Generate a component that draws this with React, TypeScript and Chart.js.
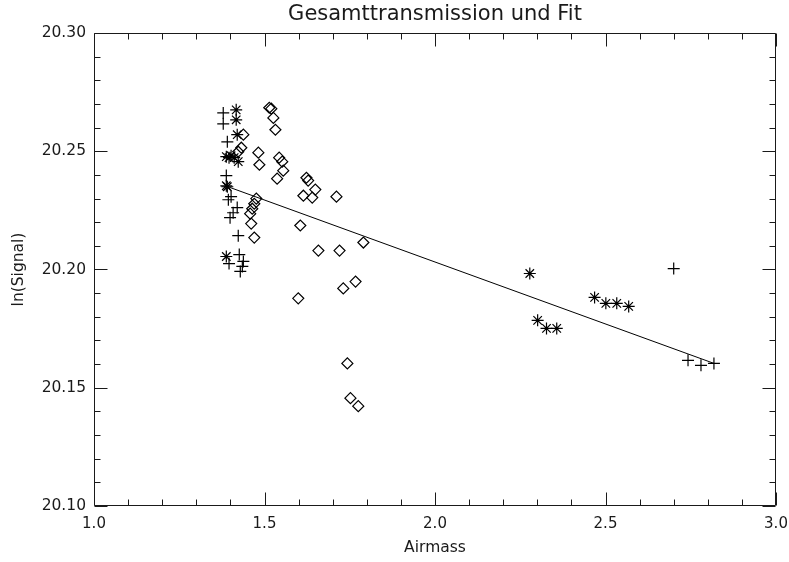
import React, { useEffect, useRef } from "react";
import { Chart, registerables } from "chart.js";

Chart.register(...registerables);

// ---- text ----
const chartTitle = "Gesamttransmission und Fit";
const xAxisTitle = "Airmass";
const yAxisTitle = "ln(Signal)";

// ---- axes ----
const xMin = 1.0;
const xMax = 3.0;
const xMajorStep = 0.5;
const xMinorPerMajor = 5;
const yMin = 20.1;
const yMax = 20.3;
const yMajorStep = 0.05;
const yMinorPerMajor = 5;

// ---- data: "+" series ----
const plusX = [1.379, 1.379, 1.391, 1.388, 1.394, 1.402, 1.42, 1.399, 1.408, 1.423, 1.426, 1.438, 1.435, 1.429, 1.396, 2.7, 2.742, 2.78, 2.818];
const plusY = [20.2662, 20.2616, 20.254, 20.2397, 20.2295, 20.2308, 20.2262, 20.2219, 20.224, 20.2143, 20.2063, 20.2034, 20.2013, 20.1992, 20.2025, 20.2004, 20.1616, 20.1595, 20.1603];

// ---- data: "*" series ----
const starX = [1.417, 1.417, 1.42, 1.396, 1.402, 1.411, 1.423, 1.388, 1.391, 1.388, 1.388, 2.278, 2.301, 2.327, 2.357, 2.468, 2.501, 2.533, 2.568];
const starY = [20.2675, 20.2633, 20.257, 20.2473, 20.2481, 20.2473, 20.2456, 20.2477, 20.235, 20.2354, 20.2055, 20.1983, 20.1785, 20.1751, 20.1751, 20.1882, 20.1857, 20.1857, 20.1844];

// ---- data: diamond series ----
const diamondX = [1.438, 1.432, 1.423, 1.514, 1.52, 1.526, 1.532, 1.482, 1.485, 1.543, 1.552, 1.555, 1.537, 1.623, 1.628, 1.649, 1.614, 1.64, 1.711, 1.476, 1.47, 1.464, 1.458, 1.461, 1.47, 1.605, 1.79, 1.658, 1.72, 1.767, 1.731, 1.599, 1.743, 1.752, 1.775];
const diamondY = [20.257, 20.2515, 20.2498, 20.2684, 20.268, 20.2641, 20.2591, 20.2494, 20.2443, 20.2473, 20.2456, 20.2418, 20.2384, 20.2388, 20.2376, 20.2338, 20.2312, 20.2304, 20.2308, 20.23, 20.2278, 20.2257, 20.2236, 20.2194, 20.2135, 20.2186, 20.2114, 20.208, 20.208, 20.1949, 20.192, 20.1878, 20.1603, 20.1456, 20.1422];

// ---- fit line end points ----
const fitX = [1.385, 2.818];
const fitY = [20.2354, 20.1603];

const ink = "#1a1a1a";
const fontFamily = "'DejaVu Sans', sans-serif";

const toPoints = (xs: number[], ys: number[]) => xs.map((x, i) => ({ x, y: ys[i] }));

const framePlugin = {
  id: "idlFrame",
  afterDatasetsDraw(chart: any) {
    const { ctx, chartArea: a, scales } = chart;
    const xs = scales.x;
    const ys = scales.y;
    ctx.save();
    ctx.strokeStyle = ink;
    ctx.lineWidth = 1;
    const L = Math.round(a.left) + 0.5;
    const R = Math.round(a.right) - 0.5;
    const T = Math.round(a.top) + 0.5;
    const B = Math.round(a.bottom) - 0.5;
    ctx.beginPath();
    ctx.rect(L, T, R - L, B - T);
    const nx = Math.round((xMax - xMin) / xMajorStep) * xMinorPerMajor;
    for (let i = 0; i <= nx; i++) {
      const v = xMin + (i * xMajorStep) / xMinorPerMajor;
      const px = Math.round(xs.getPixelForValue(v)) + 0.5;
      const len = i % xMinorPerMajor === 0 ? 13 : 6;
      ctx.moveTo(px, B);
      ctx.lineTo(px, B - len);
      ctx.moveTo(px, T);
      ctx.lineTo(px, T + len);
    }
    const ny = Math.round((yMax - yMin) / yMajorStep) * yMinorPerMajor;
    for (let i = 0; i <= ny; i++) {
      const v = yMin + (i * yMajorStep) / yMinorPerMajor;
      const py = Math.round(ys.getPixelForValue(v)) + 0.5;
      const len = i % yMinorPerMajor === 0 ? 13 : 6;
      ctx.moveTo(L, py);
      ctx.lineTo(L + len, py);
      ctx.moveTo(R, py);
      ctx.lineTo(R - len, py);
    }
    ctx.stroke();
    ctx.restore();
  },
};

export default function App() {
  const canvasRef = useRef<HTMLCanvasElement | null>(null);

  useEffect(() => {
    const canvas = canvasRef.current;
    if (!canvas) return;
    const markerCommon = {
      borderColor: "#000",
      backgroundColor: "rgba(0,0,0,0)",
      pointBorderWidth: 1.2,
      showLine: false,
    };
    const chart = new Chart(canvas, {
      type: "scatter",
      data: {
        datasets: [
          {
            label: "Fit",
            data: toPoints(fitX, fitY),
            showLine: true,
            borderColor: "#000",
            borderWidth: 1,
            pointRadius: 0,
            fill: false,
          },
          {
            label: "plus",
            data: toPoints(plusX, plusY),
            pointStyle: "cross",
            pointRadius: 6,
            ...markerCommon,
          },
          {
            label: "star",
            data: toPoints(starX, starY),
            pointStyle: "star",
            pointRadius: 6,
            ...markerCommon,
          },
          {
            label: "diamond",
            data: toPoints(diamondX, diamondY),
            pointStyle: "rectRot",
            pointRadius: 5.5,
            ...markerCommon,
          },
        ],
      },
      options: {
        responsive: false,
        animation: false,
        devicePixelRatio: 1,
        layout: { padding: { top: 0, right: 13, left: 0, bottom: 0 } },
        plugins: {
          legend: { display: false },
          tooltip: { enabled: false },
          title: {
            display: true,
            fullSize: false,
            text: chartTitle,
            color: ink,
            font: { family: fontFamily, size: 21, weight: "normal", lineHeight: 1 },
            padding: { top: 4, bottom: 8 },
          },
        },
        scales: {
          x: {
            type: "linear",
            min: xMin,
            max: xMax,
            grid: { display: false, drawTicks: false },
            border: { display: false },
            ticks: {
              stepSize: xMajorStep,
              color: ink,
              padding: 9,
              maxRotation: 0,
              font: { family: fontFamily, size: 15 },
              callback: (v: any) => Number(v).toFixed(1),
            },
            title: {
              display: true,
              text: xAxisTitle,
              color: ink,
              font: { family: fontFamily, size: 15.5, lineHeight: 1.2 },
              padding: { top: 0, bottom: 5 },
            },
            afterFit: (scale: any) => {
              scale.height = 56;
              scale.paddingLeft = 0;
              scale.paddingRight = 0;
            },
          },
          y: {
            type: "linear",
            min: yMin,
            max: yMax,
            grid: { display: false, drawTicks: false },
            border: { display: false },
            ticks: {
              stepSize: yMajorStep,
              color: ink,
              padding: 8,
              font: { family: fontFamily, size: 15.5 },
              callback: (v: any) => Number(v).toFixed(2),
            },
            title: {
              display: true,
              text: yAxisTitle,
              color: ink,
              font: { family: fontFamily, size: 15.5, lineHeight: 1.2 },
              padding: { top: 10, bottom: 0 },
            },
            afterFit: (scale: any) => {
              scale.width = 94;
              scale.paddingTop = 0;
              scale.paddingBottom = 0;
            },
          },
        },
      },
      plugins: [framePlugin],
    });
    return () => chart.destroy();
  }, []);

  return (
    <div style={{ position: "absolute", left: 0, top: 0, width: 789, height: 562, background: "#fff" }}>
      <canvas ref={canvasRef} width={789} height={562} style={{ display: "block", width: 789, height: 562 }} />
    </div>
  );
}
